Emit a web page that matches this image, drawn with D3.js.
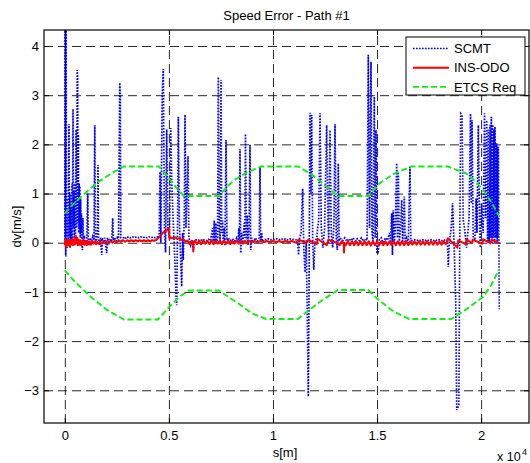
<!DOCTYPE html>
<html>
<head>
<meta charset="utf-8">
<script src="https://cdn.jsdelivr.net/npm/d3@7"></script>
<style>
  body { margin: 0; background: #fff; }
  text { font-family: "Liberation Sans", Arial, Helvetica, sans-serif; }
</style>
</head>
<body>
<svg id="chart" width="530" height="463"></svg>
<script>
// ---- data (s in metres, dv in m/s) ----
var xTicks = [0, 5000, 10000, 15000, 20000];
var xTickLabels = ['0', '0.5', '1', '1.5', '2'];
var yTicks = [-3, -2, -1, 0, 1, 2, 3, 4];

var scmt = [
  [0,0.0],[8,4.5],[20,0.1],[35,4.5],[50,-0.28],[62,4.5],[80,0.2],[100,0.9],[118,-0.1],[140,0.6],
  [160,0.05],[185,1.6],[200,2.41],[215,0.1],[240,1.0],[258,-0.1],[285,0.7],[305,0.0],[335,1.2],[360,0.05],
  [395,2.72],[415,0.3],[440,1.05],[460,0.0],[490,1.2],[510,0.1],[540,2.3],[565,0.3],[595,3.51],[615,3.4],
  [635,0.4],[650,2.2],[668,0.2],[690,1.2],[705,0.3],[725,1.15],[742,0.1],[760,0.9],[778,0.2],[800,0.6],
  [818,0.05],[845,-0.15],[870,0.5],[900,0.05],[950,0.1],[1000,-0.05],[1060,0.1],[1100,1.0],[1130,0.05],[1180,-0.05],
  [1230,0.1],[1290,0.0],[1340,0.12],[1400,0.05],[1440,2.39],[1470,0.1],[1510,0.0],[1570,0.3],[1594,1.58],[1620,0.1],
  [1680,-0.05],[1720,0.1],[1772,-0.25],[1800,0.1],[1860,0.0],[1920,0.1],[1960,-0.05],[2012,-0.21],[2050,0.1],[2120,0.0],
  [2180,0.08],[2250,0.02],[2300,0.5],[2330,0.05],[2400,0.1],[2460,0.0],[2520,0.1],[2580,0.05],[2640,3.25],[2665,3.0],
  [2690,0.1],[2750,0.05],[2850,0.12],[2950,0.08],[3050,0.12],[3150,0.1],[3250,0.12],[3350,0.1],[3450,0.12],[3550,0.1],
  [3650,0.12],[3750,0.1],[3850,0.12],[3950,0.1],[4050,0.12],[4150,0.1],[4250,0.12],[4350,0.1],[4450,0.12],
  [4530,0.1],[4573,1.44],[4610,0.0],[4680,3.0],[4731,3.53],[4790,0.3],[4840,-0.2],[4895,2.3],[4950,0.3],[5030,0.1],
  [5087,2.33],[5140,1.2],[5230,0.2],[5300,-0.5],[5342,-1.1],[5375,-1.27],[5420,0.5],[5453,2.56],[5500,0.5],[5560,-0.3],
  [5615,-0.89],[5660,0.2],[5691,-0.35],[5740,0.6],[5774,2.6],[5820,0.3],[5870,1.0],[5918,1.76],[5960,0.1],[6050,-0.05],
  [6120,0.05],[6173,-0.15],[6220,0.05],[6300,0.06],[6400,0.04],[6500,0.07],[6600,0.04],[6700,0.06],[6800,0.04],[6900,0.07],
  [7000,0.04],[7100,0.3],[7130,0.0],[7180,0.45],[7210,0.02],[7260,0.4],[7290,0.0],[7340,0.1],[7374,3.37],[7420,0.3],
  [7460,0.0],[7504,3.31],[7540,0.2],[7580,0.45],[7610,0.0],[7650,0.3],[7690,-0.05],[7744,2.09],[7790,0.05],[7850,0.1],
  [7950,0.04],[8050,0.08],[8150,0.03],[8250,0.1],[8320,0.0],[8360,0.3],[8390,0.0],[8416,1.9],[8450,-0.21],[8500,0.2],
  [8560,0.0],[8620,0.4],[8650,0.1],[8680,2.21],[8720,0.05],[8760,0.56],[8800,-0.05],[8850,0.3],[8897,1.99],[8930,-0.15],
  [8980,0.1],[9050,0.0],[9150,0.1],[9250,0.03],[9340,0.1],[9377,1.54],[9410,0.05],[9460,0.2],[9500,0.02],[9600,0.07],
  [9700,0.06],[9800,0.08],[9900,0.06],[10000,0.07],[10100,0.06],[10200,0.08],[10300,0.06],[10400,0.08],[10500,0.06],[10600,0.08],
  [10700,0.06],[10800,0.08],[10900,0.06],[11000,0.07],[11100,0.06],[11180,0.05],[11230,-0.25],[11280,0.1],[11350,0.2],[11428,1.1],
  [11480,-0.1],[11540,-0.6],[11600,0.05],[11697,-3.13],[11740,-0.5],[11778,2.64],[11820,1.0],[11860,2.6],[11910,0.0],[11960,-0.55],
  [12010,0.0],[12100,0.1],[12200,0.5],[12259,2.63],[12320,0.3],[12400,-0.1],[12480,0.3],[12580,2.39],[12640,0.5],[12680,0.0],
  [12740,2.29],[12800,0.2],[12870,-0.1],[12930,0.4],[12980,2.41],[13040,0.1],[13090,-0.15],[13139,1.61],[13180,0.05],[13250,0.08],
  [13350,0.04],[13450,0.1],[13550,0.03],[13650,0.08],[13750,0.04],[13850,0.1],[13950,0.03],[14050,0.08],[14150,0.04],[14250,0.1],
  [14350,0.03],[14450,0.08],[14520,0.05],[14580,3.82],[14640,0.3],[14710,3.68],[14760,0.2],[14810,0.0],[14868,2.97],[14910,0.1],
  [14950,2.29],[14990,-0.21],[15050,-0.2],[15100,0.05],[15200,0.1],[15300,0.0],[15400,0.1],[15500,0.05],[15600,0.2],[15650,0.0],
  [15704,0.6],[15740,-0.25],[15781,0.66],[15830,0.0],[15880,0.3],[15945,1.62],[15980,0.1],[16022,1.41],[16070,0.0],[16130,0.3],
  [16185,0.87],[16230,0.0],[16310,0.94],[16350,0.0],[16420,0.1],[16500,0.0],[16584,1.54],[16620,0.05],[16700,0.04],[16800,0.06],
  [16900,0.04],[17000,0.06],[17100,0.04],[17200,0.06],[17300,0.04],[17400,0.06],[17500,0.04],[17600,0.06],[17700,0.04],[17800,0.06],
  [17900,0.04],[18000,0.06],[18100,0.04],[18200,0.06],[18300,0.04],[18380,0.05],[18424,-0.49],[18470,0.0],[18560,0.3],[18626,0.8],
  [18700,0.0],[18780,-1.2],[18830,-3.4],[18930,-3.3],[18980,0.5],[19020,2.63],[19083,2.6],[19140,0.46],[19200,0.3],[19300,-0.1],
  [19420,0.5],[19491,2.62],[19530,0.8],[19563,2.49],[19620,0.1],[19700,0.05],[19760,0.9],[19800,0.2],[19866,2.39],[19920,0.5],
  [19960,-0.1],[20020,0.8],[20100,0.2],[20164,2.63],[20210,0.5],[20270,2.49],[20310,0.0],[20350,2.3],[20390,0.0],[20430,2.4],
  [20460,0.1],[20491,2.56],[20530,0.0],[20560,2.4],[20590,0.1],[20620,2.3],[20650,0.0],[20667,2.36],[20700,0.1],[20749,2.02],
  [20770,0.0],[20790,1.95],[20810,0.1],[20830,1.95],[20870,-1.35]
];

var insOdo = [
  [0,-0.05],[20,0.06],[45,-0.08],[70,0.05],[95,-0.06],[120,0.07],[150,-0.04],[180,0.05],[210,-0.06],[240,0.04],
  [270,-0.05],[300,0.06],[330,-0.03],[360,0.07],[390,-0.05],[420,0.05],[450,-0.04],[480,0.1],[510,-0.02],[540,0.13],
  [570,0.0],[600,0.1],[630,-0.05],[660,0.06],[700,-0.04],[740,0.05],[780,-0.05],[820,0.04],[860,-0.03],[900,0.05],
  [950,-0.04],[1000,0.03],[1050,-0.05],[1100,0.04],[1150,-0.03],[1200,0.03],[1260,-0.04],[1320,0.03],[1380,-0.02],[1440,0.03],
  [1500,-0.03],[1560,0.02],[1620,-0.02],[1700,0.03],[1780,-0.02],[1860,0.02],[1940,-0.01],[2020,0.03],[2100,0.0],[2200,0.03],
  [2300,0.0],[2400,0.04],[2500,0.01],[2600,0.04],[2700,0.02],[2800,0.05],[2900,0.02],[3000,0.05],[3100,0.03],[3200,0.05],
  [3300,0.03],[3400,0.05],[3500,0.03],[3600,0.05],[3700,0.03],[3800,0.05],[3900,0.03],[4000,0.05],[4100,0.03],[4200,0.05],
  [4300,0.04],[4400,0.06],[4550,0.12],[4700,0.2],[4850,0.24],[5000,0.3],[5030,0.08],[5100,0.1],[5200,0.09],[5300,0.11],
  [5400,0.08],[5500,0.09],[5600,0.06],[5700,0.07],[5800,0.02],[5900,0.04],[6000,-0.03],[6100,0.04],[6160,-0.02],[6173,-0.18],
  [6185,0.0],[6250,0.04],[6350,-0.03],[6450,0.04],[6550,-0.03],[6650,0.05],[6750,-0.02],[6850,0.04],[6950,-0.03],[7050,0.05],
  [7150,-0.03],[7250,0.04],[7350,-0.02],[7450,0.05],[7550,-0.03],[7650,0.04],[7750,-0.02],[7850,0.05],[7950,-0.03],[8050,0.04],
  [8150,-0.02],[8250,0.05],[8350,-0.02],[8450,0.04],[8550,-0.02],[8650,0.04],[8750,-0.01],[8850,0.04],[8950,0.0],[9100,0.035],
  [9250,0.01],[9400,0.035],[9550,0.01],[9700,0.035],[9850,0.01],[10000,0.035],[10150,0.01],[10300,0.035],[10450,0.01],[10600,0.035],
  [10750,0.01],[10900,0.035],[11050,0.01],[11140,0.0],[11218,0.06],[11622,0.0],[11697,0.06],[12100,-0.03],[12150,0.08],[12582,-0.05],
  [12660,0.06],[13110,-0.01],[13200,-0.05],[13300,0.03],[13400,-0.01],[13413,-0.2],[13425,0.0],[13500,-0.05],[13600,0.03],[13700,-0.05],
  [13800,0.03],[13900,-0.05],[14000,0.03],[14100,-0.05],[14200,0.03],[14300,-0.05],[14400,0.03],[14500,-0.05],[14600,0.03],[14700,-0.06],
  [14800,0.03],[14900,-0.05],[15000,0.03],[15100,-0.05],[15200,0.03],[15300,-0.05],[15400,0.03],[15500,-0.05],[15600,0.03],[15700,-0.05],
  [15800,0.03],[15900,-0.05],[16000,0.03],[16100,-0.05],[16200,0.03],[16300,-0.05],[16400,0.03],[16500,-0.05],[16600,0.03],[16700,-0.04],
  [16800,0.03],[16900,-0.04],[17000,0.03],[17100,-0.04],[17200,0.03],[17300,-0.04],[17400,0.03],[17500,-0.04],[17600,0.03],[17700,-0.04],
  [17800,0.03],[17900,-0.04],[18000,0.03],[18100,-0.04],[18200,0.03],[18300,-0.03],[18350,0.0],[18400,0.09],[18860,-0.1],[18900,0.05],
  [19250,-0.03],[19300,0.07],[19560,-0.01],[19600,0.06],[20060,-0.02],[20100,0.07],[20450,-0.01],[20500,0.06],[20870,-0.01]
];

var etcsUpper = [
  [0,0.6],[400,0.78],[770,0.93],[1200,1.09],[1590,1.23],[2200,1.4],[2840,1.55],[4520,1.55],[4950,1.34],[5350,1.12],
  [5720,0.95],[7400,0.95],[7750,1.12],[8130,1.27],[8750,1.43],[9420,1.55],[11200,1.55],[11650,1.44],[12070,1.32],[12600,1.13],
  [13125,0.95],[14570,0.95],[15100,1.2],[15800,1.4],[16630,1.55],[18400,1.55],[19280,1.41],[19700,1.26],[20100,1.07],[20500,0.82],
  [20870,0.53]
];
var etcsLower = [
  [0,-0.56],[500,-0.8],[1250,-1.1],[2000,-1.36],[2840,-1.56],[4470,-1.56],[5100,-1.27],[5500,-1.1],[5960,-0.97],[7400,-0.97],
  [8460,-1.27],[9000,-1.44],[9660,-1.55],[11200,-1.55],[11730,-1.37],[12400,-1.16],[13125,-0.96],[14570,-0.96],[15100,-1.17],[15800,-1.4],
  [16540,-1.55],[18560,-1.55],[19300,-1.35],[20100,-1.1],[20500,-0.85],[20870,-0.54]
];

var seriesNames = ['SCMT', 'INS-ODO', 'ETCS Req'];

// ---- layout ----
var margin = { top: 30, right: 1, bottom: 40, left: 44 };
var width = 530 - margin.left - margin.right;
var height = 463 - margin.top - margin.bottom;

var svg = d3.select('#chart');
var g = svg.append('g')
  .attr('transform', 'translate(' + margin.left + ',' + margin.top + ')');

var xScale = d3.scaleLinear().domain([-1000, 22300]).range([0, width]);
var yScale = d3.scaleLinear().domain([-3.665, 4.325]).range([height, 0]);

// grid lines
g.append('g')
  .attr('class', 'grid')
  .attr('transform', 'translate(0,' + height + ')')
  .call(d3.axisBottom(xScale).tickValues(xTicks).tickSize(-height).tickFormat(''));
g.append('g')
  .attr('class', 'grid')
  .call(d3.axisLeft(yScale).tickValues(yTicks).tickSize(-width).tickFormat(''));
g.selectAll('.grid .domain').remove();
g.selectAll('.grid line')
  .attr('stroke', '#111')
  .attr('stroke-width', 0.9)
  .attr('stroke-dasharray', '9,5');

// clip for data
g.append('clipPath').attr('id', 'plotclip')
  .append('rect').attr('width', width).attr('height', height);

var line = d3.line()
  .x(function (d) { return xScale(d[0]); })
  .y(function (d) { return yScale(d[1]); });

var plot = g.append('g').attr('clip-path', 'url(#plotclip)');

plot.append('path')
  .datum(scmt)
  .attr('d', line)
  .attr('fill', 'none')
  .attr('stroke', '#0000ff')
  .attr('stroke-width', 1.7)
  .attr('stroke-dasharray', '1.6,1.4');

plot.append('path')
  .datum(insOdo)
  .attr('d', line)
  .attr('fill', 'none')
  .attr('stroke', '#ff0000')
  .attr('stroke-width', 2)
  .attr('stroke-linejoin', 'round');

[etcsUpper, etcsLower].forEach(function (env) {
  plot.append('path')
    .datum(env)
    .attr('d', line)
    .attr('fill', 'none')
    .attr('stroke', '#11ee11')
    .attr('stroke-width', 1.9)
    .attr('stroke-dasharray', '6,3');
});

// axes with inward ticks
var fontSize = '13px';
g.append('g')
  .attr('transform', 'translate(0,' + height + ')')
  .call(d3.axisBottom(xScale).tickValues(xTicks).tickSize(-5).tickPadding(8)
    .tickFormat(function (d, i) { return xTickLabels[i]; }));
g.append('g')
  .call(d3.axisLeft(yScale).tickValues(yTicks).tickSize(-5).tickPadding(5));
g.append('g')
  .call(d3.axisTop(xScale).tickValues(xTicks).tickSize(-5).tickFormat(''));
g.append('g')
  .attr('transform', 'translate(' + width + ',0)')
  .call(d3.axisRight(yScale).tickValues(yTicks).tickSize(-5).tickFormat(''));
g.selectAll('.domain').remove();
g.selectAll('.tick line').filter(function () { return !this.closest('.grid'); })
  .attr('stroke', '#000');
g.selectAll('.tick text')
  .attr('fill', '#000')
  .style('font-size', fontSize)
  .style('font-family', '"Liberation Sans", Arial, sans-serif');

g.append('rect')
  .attr('width', width)
  .attr('height', height)
  .attr('fill', 'none')
  .attr('stroke', '#000')
  .attr('stroke-width', 1.2);

// texts
svg.append('text')
  .attr('x', margin.left + width / 2)
  .attr('y', 20)
  .attr('text-anchor', 'middle')
  .style('font-size', fontSize)
  .text('Speed Error - Path #1');
svg.append('text')
  .attr('x', 285)
  .attr('y', 457)
  .attr('text-anchor', 'middle')
  .style('font-size', fontSize)
  .text('s[m]');
svg.append('text')
  .attr('transform', 'translate(20.5,' + (margin.top + height / 2) + ') rotate(-90)')
  .attr('text-anchor', 'middle')
  .style('font-size', fontSize)
  .text('dv[m/s]');
svg.append('text')
  .attr('x', 497)
  .attr('y', 461)
  .style('font-size', '12.5px')
  .text('x 10');
svg.append('text')
  .attr('x', 522)
  .attr('y', 455)
  .style('font-size', '9px')
  .text('4');

// legend
var legend = svg.append('g').attr('transform', 'translate(406,37)');
legend.append('rect')
  .attr('width', 119)
  .attr('height', 58)
  .attr('fill', '#fff')
  .attr('stroke', '#000')
  .attr('stroke-width', 1);
var legendStyles = [
  { color: '#0000ff', dash: '1.6,1.4', w: 1.7 },
  { color: '#ff0000', dash: null, w: 2 },
  { color: '#11ee11', dash: '6,3', w: 1.9 }
];
seriesNames.forEach(function (name, i) {
  var yy = 11.5 + i * 19.2;
  legend.append('line')
    .attr('x1', 7).attr('x2', 43)
    .attr('y1', yy).attr('y2', yy)
    .attr('stroke', legendStyles[i].color)
    .attr('stroke-width', legendStyles[i].w)
    .attr('stroke-dasharray', legendStyles[i].dash);
  legend.append('text')
    .attr('x', 48)
    .attr('y', yy)
    .attr('dy', '0.36em')
    .style('font-size', fontSize)
    .text(name);
});
</script>
</body>
</html>
